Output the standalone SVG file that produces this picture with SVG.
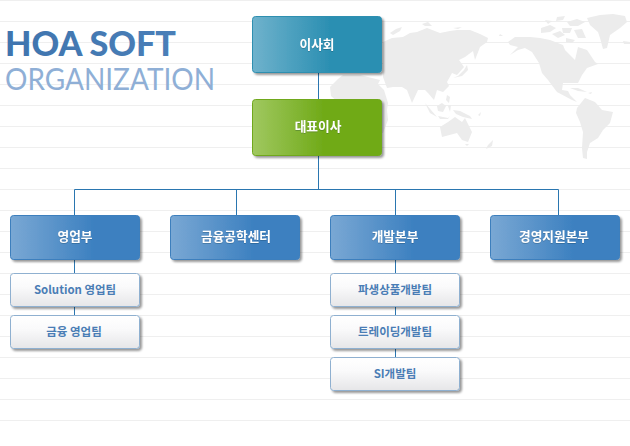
<svg xmlns="http://www.w3.org/2000/svg" width="630" height="446" viewBox="0 0 630 446">
<style>
.bg{stroke:#efefef;stroke-width:1}
.map{fill:#ececec}
.conn{stroke:#2a76b0;stroke-width:1;fill:none}
.box{stroke-width:1;filter:url(#sh)}
.t{font-family:"Noto Sans CJK KR","Noto Sans",sans-serif;font-weight:700;text-anchor:middle}
.w{fill:#fff;filter:url(#gl);font-size:12.700px}
.b{fill:#4a7db5;font-size:11.500px}
</style>
<defs>
<linearGradient id="g1"><stop offset="0" stop-color="#6fb2cc"/><stop offset=".6" stop-color="#2b8fb2"/></linearGradient>
<linearGradient id="g2"><stop offset="0" stop-color="#a0c860"/><stop offset=".55" stop-color="#70aa18"/></linearGradient>
<linearGradient id="g3"><stop offset="0" stop-color="#7aa8d4"/><stop offset=".65" stop-color="#3c80c0"/></linearGradient>
<linearGradient id="g4" x1="0" y1="0" x2="0" y2="1"><stop offset="0" stop-color="#fff"/><stop offset=".4" stop-color="#fafafb"/><stop offset="1" stop-color="#e6e6e8"/></linearGradient>
<linearGradient id="tg" x1="0" y1="0" x2="1" y2="0"><stop offset="0" stop-color="#3f74ae"/><stop offset="1" stop-color="#4a7fb8"/></linearGradient>
<filter id="sh" x="-10%" y="-15%" width="125%" height="140%"><feDropShadow dx="2" dy="2" stdDeviation="1.200" flood-color="#000" flood-opacity=".4"/></filter>
<filter id="gl" x="-10%" y="-20%" width="120%" height="140%"><feDropShadow dx="0" dy="0.500" stdDeviation="0.700" flood-color="#123" flood-opacity=".45"/></filter>
</defs>
<rect width="630" height="446" fill="#fff"/>
<g id="background">
<path class="bg" d="M0 .5H630M0 21.500H630M0 42.500H630M0 63.500H630M0 84.500H630M0 105.500H630M0 126.500H630M0 147.500H630M0 168.500H630M0 189.500H630M0 210.500H630M0 231.500H630M0 252.500H630M0 273.500H630M0 294.500H630M0 315.500H630M0 336.500H630M0 357.500H630M0 378.500H630M0 399.500H630M0 420.500H630"/>
<g id="worldmap">
<path class="map" d="M383 42L392 38L403 37L410 33L417 32L427 28L440 33L450 31L457 30L470 30L480 34L488 38L487 42L480 47L475 60L473 51L465 57L459 60L464 67L457 75L452 73L447 82L449 86L443 92L437 90L434 100L428 93L425 90L418 90L412 103L407 90L402 87L393 87L387 88L383 77Z"/>
<path class="map" d="M390 33L396 29L402 27L400 31L393 35ZM422 24L428 22L432 26L425 26ZM453 28L462 27L458 29ZM500 34L503 36L499 36Z"/>
<path class="map" d="M330 87L338 79L343 75L360 75L380 80L378 84L384 90L388 103L387 110L388 120L383 133L378 133L370 120L366 104L350 104L338 102L331 96Z"/>
<path class="map" d="M453 78L458 76L464 70L467 65L468 70L462 76ZM447 95L450 97L449 103L446 100ZM425 103L431 110L437 117L430 113ZM438 116L448 118L450 116L448 119L440 119ZM437 106L442 103L446 106L443 112L438 111ZM448 106L451 105L450 112ZM453 110L460 111L470 116L472 119L463 117L456 114ZM478 115L481 112L480 116Z"/>
<path class="map" d="M440 127L448 122L455 117L462 122L465 118L472 132L468 142L462 140L457 133L442 137Z"/>
<path class="map" d="M488 145L493 140L492 146L486 149ZM465 144L469 144L467 146Z"/>
<path class="map" d="M508 42L515 37L530 37L540 38L550 40L563 45L565 50L575 60L578 47L587 50L595 62L598 64L587 68L582 75L578 83L563 83L562 90L568 91L570 95L577 102L572 100L557 92L548 80L542 73L539 63L532 52L525 48L518 50L510 55L518 47L510 45Z"/>
<path class="map" d="M570 88L578 88L587 92L578 91ZM588 93L592 92L591 94Z"/>
<path class="map" d="M577 108L585 98L595 102L602 110L613 112L610 123L603 130L598 138L590 143L587 152L587 159L583 158L582 148L583 132L580 122L576 113Z"/>
<path class="map" d="M587 18L600 15L613 14L625 16L627 22L620 28L610 35L607 48L603 49L600 38L598 32L590 25ZM623 41L630 42V44L624 44Z"/>
<path class="map" d="M541 28L550 25L556 28L550 32L541 33ZM552 34L560 31L565 35L558 38ZM567 22L577 19L585 22L578 26L570 26ZM562 28L572 28L570 33L563 33ZM574 30L582 29L586 38L578 38ZM545 20L552 21L548 24ZM557 17L565 16L563 20L556 21ZM566 38L575 40L572 43L566 42Z"/>
</g>
</g>
<g id="title">
<text x="5" y="56" font-family="Lato,'Liberation Sans',sans-serif" font-size="35" font-weight="900" fill="url(#tg)" textLength="171" lengthAdjust="spacingAndGlyphs">HOA SOFT</text>
<text x="5" y="90" font-family="Lato,'Liberation Sans',sans-serif" font-size="31" font-weight="400" fill="#8fafd6" textLength="210" lengthAdjust="spacingAndGlyphs">ORGANIZATION</text>
</g>
<g id="connectors">
<path class="conn" d="M318.500 73V189M74.500 215V189.500H558.500V215M236.500 189.500V215M395.500 189.500V215M74.500 260V315M395.500 260V357"/>
</g>
<g id="n1"><rect class="box" x="252.500" y="16.500" width="129" height="56" rx="3" fill="url(#g1)" stroke="#2f8fb0"/><text class="t w" x="317" y="49">이사회</text></g>
<g id="n2"><rect class="box" x="252.500" y="99.500" width="129" height="56" rx="3" fill="url(#g2)" stroke="#6fa81c"/><text class="t w" x="318" y="131">대표이사</text></g>
<g id="n3"><rect class="box" x="10.500" y="215.500" width="129" height="44" rx="3" fill="url(#g3)" stroke="#3c7fbd"/><text class="t w" x="75" y="241">영업부</text></g>
<g id="n4"><rect class="box" x="170.500" y="215.500" width="129" height="44" rx="3" fill="url(#g3)" stroke="#3c7fbd"/><text class="t w" x="236" y="241">금융공학센터</text></g>
<g id="n5"><rect class="box" x="330.500" y="215.500" width="129" height="44" rx="3" fill="url(#g3)" stroke="#3c7fbd"/><text class="t w" x="395" y="241">개발본부</text></g>
<g id="n6"><rect class="box" x="490.500" y="215.500" width="129" height="44" rx="3" fill="url(#g3)" stroke="#3c7fbd"/><text class="t w" x="554" y="241">경영지원본부</text></g>
<g id="n7"><rect class="box" x="10.500" y="273.500" width="129" height="33" rx="3" fill="url(#g4)" stroke="#8fb0d0"/><text class="t b" x="75" y="294" textLength="82" lengthAdjust="spacingAndGlyphs">Solution 영업팀</text></g>
<g id="n8"><rect class="box" x="10.500" y="315.500" width="129" height="33" rx="3" fill="url(#g4)" stroke="#8fb0d0"/><text class="t b" x="74" y="336">금융 영업팀</text></g>
<g id="n9"><rect class="box" x="330.500" y="273.500" width="129" height="33" rx="3" fill="url(#g4)" stroke="#8fb0d0"/><text class="t b" x="395" y="294">파생상품개발팀</text></g>
<g id="n10"><rect class="box" x="330.500" y="315.500" width="129" height="33" rx="3" fill="url(#g4)" stroke="#8fb0d0"/><text class="t b" x="395" y="336">트레이딩개발팀</text></g>
<g id="n11"><rect class="box" x="330.500" y="357.500" width="129" height="33" rx="3" fill="url(#g4)" stroke="#8fb0d0"/><text class="t b" x="395" y="378">SI개발팀</text></g>
</svg>
